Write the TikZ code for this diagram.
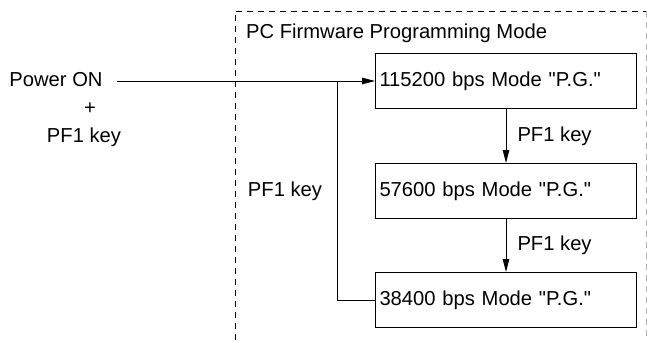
\documentclass[tikz,border=0pt]{standalone}
\usepackage{fontspec}
\setmainfont[Ligatures=TeXOff]{Liberation Sans}
\usetikzlibrary{arrows.meta}

\tikzset{
  mode/.style={draw, line width=1pt, minimum width=261pt, minimum height=55pt,
    inner sep=0pt, text width=253pt, align=left},
  lbl/.style={inner sep=0pt},
  conn/.style={line width=1pt},
  tip/.style={-{Triangle[length=13pt,width=6.5pt]}}
}

\begin{document}
\begin{tikzpicture}[x=1pt, y=-1pt, font=\fontsize{20.2}{23}\selectfont]
    	\useasboundingbox (0,0) rectangle (647,340);

    	% programming mode area
    	\draw[line width=0.9pt, dash pattern=on 6pt off 5pt] (235,340) -- (235,11) -- (646,11);
    	\draw[line width=0.9pt, dash pattern=on 6pt off 5pt, black!30] (646,11) -- (646,340);
    	\node[lbl, anchor=west] (area) at (246,33) {PC Firmware Programming Mode};

    	% entry condition
    	\node[lbl] (power) at (56,80) {Power ON};
    	\node[lbl] (plus) at (90,109) {+};
    	\node[lbl] (key) at (84,137) {PF1 key};

    	% modes
    	\node[mode] (m1) at (506,81) {115200 bps Mode "P.G."};
    	\node[mode] (m2) at (506,191) {57600 bps Mode "P.G."};
    	\node[mode] (m3) at (506,300) {38400 bps Mode "P.G."};

    	\coordinate (start) at (117,81);
    	\draw[conn, tip] (start) -- (m1.west);
    	\coordinate (split) at (337,81);
    	\draw[conn] (m3.west) -| (split);

    	\draw[conn, tip] (m1) -- (m2) node[lbl, midway, anchor=west, xshift=11pt] (k1) {PF1 key};
    	\draw[conn, tip] (m2) -- (m3) node[lbl, midway, anchor=west, xshift=11pt] (k2) {PF1 key};
    	\node[lbl] (k3) at (285,191) {PF1 key};

    	\end{tikzpicture}
\end{document}
